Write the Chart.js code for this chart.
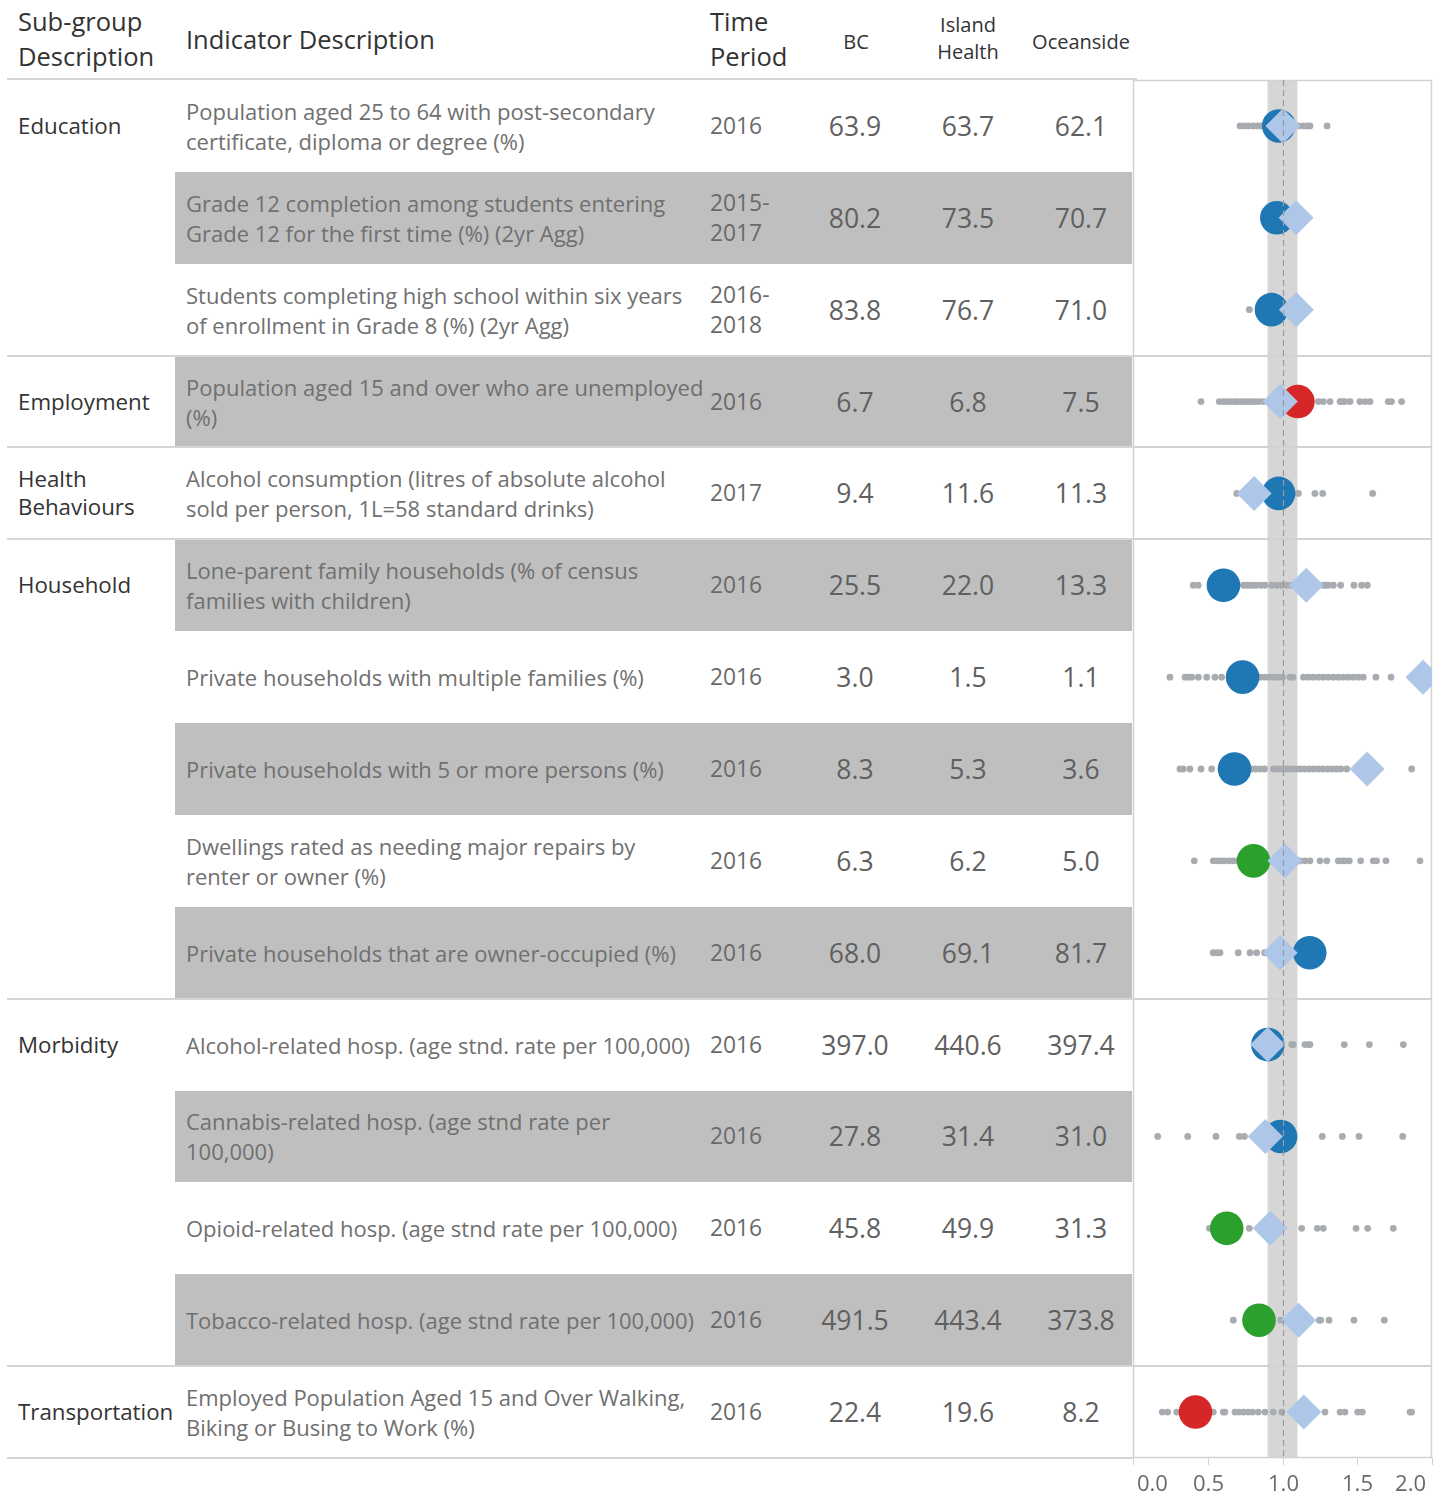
<!DOCTYPE html>
<html><head><meta charset="utf-8">
<script src="https://cdn.jsdelivr.net/npm/chart.js@4"></script>
<style>
html,body{margin:0;padding:0;background:#fff}
body{width:1443px;height:1496px;position:relative;overflow:hidden;font-family:"Open Sans",sans-serif}
.a{position:absolute;white-space:nowrap}
.cell{display:flex;align-items:center}
.hdr{color:#333;font-size:25.5px;line-height:35px}
.sub{font-size:20px}
.grp{color:#333;font-size:22.3px;line-height:28px}
.ind{color:#707070;font-size:22px;line-height:30px}
.per{color:#6a6a6a;font-size:22.8px;line-height:30px}
.val{color:#606060;font-size:26.5px;justify-content:center;text-align:center}
.shade{background:#bfbfbf}
.line{background:#d6d6d6}
</style></head><body>
<div id="table"></div>
<canvas id="c" width="343" height="1426" style="position:absolute;left:1100px;top:70px"></canvas>
<script>
// ---------- data ----------
const groupLabels = ["Education","","","Employment","Health\nBehaviours","Household","","","","","Morbidity","","","","Transportation"];
const indicators = [
  "Population aged 25 to 64 with post-secondary\ncertificate, diploma or degree (%)",
  "Grade 12 completion among students entering\nGrade 12 for the first time (%) (2yr Agg)",
  "Students completing high school within six years\nof enrollment in Grade 8 (%) (2yr Agg)",
  "Population aged 15 and over who are unemployed\n(%)",
  "Alcohol consumption (litres of absolute alcohol\nsold per person, 1L=58 standard drinks)",
  "Lone-parent family households (% of census\nfamilies with children)",
  "Private households with multiple families (%)",
  "Private households with 5 or more persons (%)",
  "Dwellings rated as needing major repairs by\nrenter or owner (%)",
  "Private households that are owner-occupied (%)",
  "Alcohol-related hosp. (age stnd. rate per 100,000)",
  "Cannabis-related hosp. (age stnd rate per\n100,000)",
  "Opioid-related hosp. (age stnd rate per 100,000)",
  "Tobacco-related hosp. (age stnd rate per 100,000)",
  "Employed Population Aged 15 and Over Walking,\nBiking or Busing to Work (%)"
];
const timePeriods = ["2016","2015-\n2017","2016-\n2018","2016","2017","2016","2016","2016","2016","2016","2016","2016","2016","2016","2016"];
const bcValues           = [63.9, 80.2, 83.8, 6.7, 9.4, 25.5, 3.0, 8.3, 6.3, 68.0, 397.0, 27.8, 45.8, 491.5, 22.4];
const islandHealthValues = [63.7, 73.5, 76.7, 6.8, 11.6, 22.0, 1.5, 5.3, 6.2, 69.1, 440.6, 31.4, 49.9, 443.4, 19.6];
const oceansideValues    = [62.1, 70.7, 71.0, 7.5, 11.3, 13.3, 1.1, 3.6, 5.0, 81.7, 397.4, 31.0, 31.3, 373.8, 8.2];
// ratios relative to Island Health
const oceansideRatio = [0.975, 0.962, 0.926, 1.103, 0.974, 0.605, 0.733, 0.679, 0.806, 1.182, 0.902, 0.987, 0.627, 0.843, 0.418];
const bcRatio        = [1.003, 1.091, 1.093, 0.985, 0.810, 1.159, 1.94, 1.566, 1.016, 0.984, 0.901, 0.885, 0.918, 1.108, 1.143];
const oceansideStatus = ["similar","similar","similar","worse","similar","similar","similar","similar","better","similar","similar","similar","better","better","worse"];
const lhaDots = [
  [0.716,0.745,0.775,0.805,0.835,0.86,0.90,0.95,1.0,1.04,1.075,1.106,1.14,1.17,1.184,1.298],
  [],
  [0.778],
  [0.455,0.577,0.603,0.63,0.655,0.68,0.70,0.725,0.749,0.771,0.794,0.815,0.84,0.87,1.24,1.273,1.318,1.385,1.40,1.418,1.452,1.518,1.552,1.585,1.707,1.729,1.797],
  [0.694,1.106,1.217,1.269,1.603],
  [0.403,0.436,0.738,0.76,0.783,0.805,0.827,0.855,0.883,0.928,0.961,0.995,1.028,1.06,1.273,1.29,1.306,1.34,1.389,1.478,1.529,1.567],
  [0.247,0.348,0.370,0.393,0.437,0.493,0.548,0.593,0.65,0.70,0.76,0.82,0.85,0.88,0.91,0.94,0.97,1.0,1.05,1.07,1.14,1.173,1.206,1.24,1.273,1.306,1.34,1.373,1.406,1.44,1.473,1.506,1.54,1.625,1.726],
  [0.314,0.336,0.381,0.455,0.526,0.794,0.82,0.85,0.88,0.94,0.97,1.0,1.03,1.06,1.09,1.12,1.15,1.18,1.21,1.24,1.27,1.30,1.33,1.36,1.39,1.43,1.864],
  [0.41,0.537,0.56,0.585,0.61,0.64,0.67,0.70,0.76,0.85,0.90,0.95,1.117,1.15,1.184,1.251,1.296,1.373,1.40,1.418,1.447,1.523,1.607,1.629,1.692,1.92],
  [0.537,0.56,0.582,0.704,0.783,0.827,0.88,0.93],
  [1.061,1.072,1.15,1.173,1.184,1.413,1.581,1.808],
  [0.165,0.366,0.555,0.711,0.745,1.266,1.40,1.512,1.804],
  [0.511,0.778,1.128,1.233,1.273,1.492,1.57,1.741],
  [0.671,0.988,1.246,1.255,1.311,1.478,1.681],
  [0.196,0.232,0.292,0.537,0.604,0.615,0.682,0.71,0.74,0.77,0.80,0.838,0.883,0.938,0.995,1.284,1.385,1.418,1.503,1.534,1.853,1.864]
];
const xTickValues = [0, 0.5, 1.0, 1.5, 2.0];
const xTickLabels = ["0.0","0.5","1.0","1.5","2.0"];
const refBand = [0.9, 1.1];
const refLine = 1.0;

// ---------- layout ----------
const TOP = 80, BOTTOM = 1458, N = indicators.length, ROW_H = (BOTTOM - TOP) / N;
const statusColor = {similar:"#1f77b4", worse:"#d62728", better:"#2ca02c"};
const groupStarts = groupLabels.map((g,i)=>g?i:-1).filter(i=>i>=0);
const T = document.getElementById("table");
function add(cls, style, html){ const d=document.createElement("div"); d.className="a "+cls; Object.assign(d.style,style); d.innerHTML=html; T.appendChild(d); return d; }
const br = s => s.replace(/\n/g,"<br>");

// header
add("hdr", {left:"18px", top:"4px"}, "Sub-group<br>Description");
add("hdr", {left:"186px", top:"22px"}, "Indicator Description");
add("hdr", {left:"710px", top:"4px"}, "Time<br>Period");
add("hdr sub", {left:"796px", width:"120px", textAlign:"center", top:"24px"}, "BC");
add("hdr sub", {left:"908px", width:"120px", textAlign:"center", top:"11px", lineHeight:"27px"}, "Island<br>Health");
add("hdr sub", {left:"1021px", width:"120px", textAlign:"center", top:"24px"}, "Oceanside");
add("line", {left:"7px", top:"78px", width:"1130px", height:"2px"}, "");

for (let i=0;i<N;i++){
  const top = TOP + i*ROW_H;
  const h = ROW_H + "px";
  if (i % 2 === 1) add("shade", {left:"175px", top:top+"px", width:"957px", height:h}, "");
  add("ind cell", {left:"186px", top:top+"px", height:h}, "<div>"+br(indicators[i])+"</div>");
  add("per cell", {left:"710px", top:top+"px", height:h}, "<div>"+br(timePeriods[i])+"</div>");
  [[bcValues,855],[islandHealthValues,968],[oceansideValues,1081]].forEach(([arr,cx])=>{
    add("val cell", {left:(cx-60)+"px", width:"120px", top:top+"px", height:h}, arr[i].toFixed(1));
  });
  if (groupLabels[i]) {
    add("grp", {left:"18px", top:(top + ROW_H/2 - (groupLabels[i].includes("\n")?28:14))+"px"}, br(groupLabels[i]));
    if (i>0) add("line", {left:"7px", top:(top-1)+"px", width:"1126px", height:"2px"}, "");
  }
}
add("line", {left:"7px", top:(BOTTOM-1)+"px", width:"1126px", height:"2px"}, "");

// ---------- chart ----------
Chart.defaults.font.family = '"Open Sans", sans-serif';
const dotData = [];
lhaDots.forEach((arr,i)=>arr.forEach(v=>dotData.push({x:v, y:i})));
const circleData = oceansideRatio.map((v,i)=>({x:v, y:i}));
const diamondData = bcRatio.map((v,i)=>({x:v, y:i}));

const panelPlugin = {
  id: "panel",
  beforeDatasetsDraw(chart){
    const {ctx, chartArea:a, scales:{x,y}} = chart;
    ctx.save();
    const b0 = x.getPixelForValue(refBand[0]), b1 = x.getPixelForValue(refBand[1]);
    ctx.fillStyle = "#d6d6d6";
    ctx.fillRect(b0, a.top, b1-b0, a.bottom-a.top);
    ctx.strokeStyle = "#d2d2d2"; ctx.lineWidth = 2;
    groupStarts.forEach(i=>{
      if (i===0) return;
      const py = Math.round(y.getPixelForValue(i-0.5));
      ctx.beginPath(); ctx.moveTo(a.left, py); ctx.lineTo(a.right, py); ctx.stroke();
    });
    ctx.lineWidth = 1.5;
    ctx.strokeRect(a.left+0.5, a.top+0.5, a.right-a.left-1, a.bottom-a.top-1);
    ctx.restore();
  },
  afterDatasetsDraw(chart){
    const {ctx, chartArea:a, scales:{x}} = chart;
    ctx.save();
    const r = Math.round(x.getPixelForValue(refLine)) + 0.5;
    ctx.strokeStyle = "#9a9a9a"; ctx.lineWidth = 1.2; ctx.setLineDash([6,4]);
    ctx.beginPath(); ctx.moveTo(r, a.top); ctx.lineTo(r, a.bottom); ctx.stroke();
    ctx.restore();
  },
  afterDraw(chart){
    const {ctx, chartArea:a, scales:{x}} = chart;
    ctx.save();
    ctx.strokeStyle = "#d2d2d2"; ctx.lineWidth = 1;
    ctx.font = '22px "Open Sans", sans-serif';
    ctx.fillStyle = "#6a6a6a"; ctx.textAlign = "center"; ctx.textBaseline = "middle";
    xTickValues.forEach((v,k)=>{
      const px = Math.round(x.getPixelForValue(v)) + 0.5;
      ctx.beginPath(); ctx.moveTo(px, a.bottom); ctx.lineTo(px, a.bottom+7); ctx.stroke();
      const w = ctx.measureText(xTickLabels[k]).width;
      const cx = Math.min(Math.max(px, a.left + w/2 + 4), a.right - w/2 - 6);
      ctx.fillText(xTickLabels[k], cx, a.bottom + 27);
    });
    ctx.restore();
  }
};

new Chart(document.getElementById("c"), {
  type: "scatter",
  data: { datasets: [
    { label:"BC", data: diamondData, pointStyle:"rectRot", pointRadius:17.5, pointBackgroundColor:"#aec7e8", backgroundColor:"#aec7e8", pointBorderWidth:0, borderWidth:0, order:0, clip:0 },
    { label:"Oceanside", data: circleData, pointStyle:"circle", pointRadius:16.8, pointBackgroundColor: oceansideStatus.map(s=>statusColor[s]), backgroundColor: oceansideStatus.map(s=>statusColor[s]), pointBorderWidth:0, borderWidth:0, order:1, clip:0 },
    { label:"Local Health Areas", data: dotData, pointStyle:"circle", pointRadius:3.4, pointBackgroundColor:"#a8acb0", backgroundColor:"#a8acb0", pointBorderWidth:0, borderWidth:0, order:2, clip:0 }
  ]},
  options: {
    responsive:false, animation:false, events:[],
    layout:{ autoPadding:false, padding:{ left:33, right:11, top:10, bottom:38 } },
    plugins:{ legend:{display:false}, tooltip:{enabled:false} },
    scales:{
      x:{ type:"linear", min:0, max:2, display:false },
      y:{ type:"linear", min:-0.5, max:N-0.5, reverse:true, display:false }
    }
  },
  plugins:[panelPlugin]
});
</script>
</body></html>
